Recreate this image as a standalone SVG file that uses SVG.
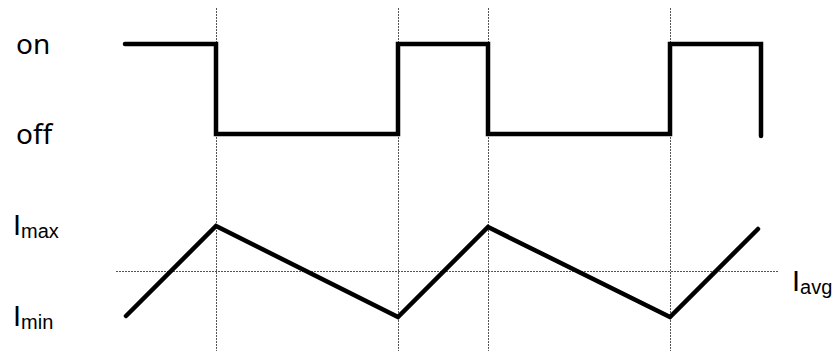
<svg xmlns="http://www.w3.org/2000/svg" width="834" height="351" viewBox="0 0 834 351">
<style>
.grid{stroke:#555;stroke-width:1;stroke-dasharray:2,1;fill:none}
.wave{stroke:#000;stroke-width:4.5;fill:none;stroke-linejoin:miter;stroke-linecap:round}
.lbl{font-family:"Noto Sans","Open Sans",sans-serif;font-size:28px;fill:#000}
.cur{font-family:"Liberation Sans",Arial,sans-serif;font-size:29px;fill:#000}
.sub{font-size:20px}
</style>
<rect width="834" height="351" fill="#fff"/>
<g id="guides">
<line class="grid" x1="216.5" y1="8" x2="216.5" y2="351"/>
<line class="grid" x1="398.5" y1="8" x2="398.5" y2="351"/>
<line class="grid" x1="488.5" y1="8" x2="488.5" y2="351"/>
<line class="grid" x1="670.5" y1="8" x2="670.5" y2="351"/>
<line class="grid" x1="116" y1="271.5" x2="779" y2="271.5"/>
</g>
<g id="switch-wave">
<polyline class="wave" points="125,44 216,44 216,134 398,134 398,44 488,44 488,134 670,134 670,44 761,44 761,136"/>
</g>
<g id="current-wave">
<polyline class="wave" points="126,316 216,226 398,317 488,227 670,317 758,229"/>
</g>
<g id="labels">
<text class="lbl" x="16" y="54">on</text>
<text class="lbl" x="16" y="144">off</text>
<text class="cur" x="13" y="235">I<tspan class="sub" dy="3">max</tspan></text>
<text class="cur" x="13" y="326">I<tspan class="sub" dy="3">min</tspan></text>
<text class="cur" x="792" y="291">I<tspan class="sub" dy="3">avg</tspan></text>
</g>
</svg>
